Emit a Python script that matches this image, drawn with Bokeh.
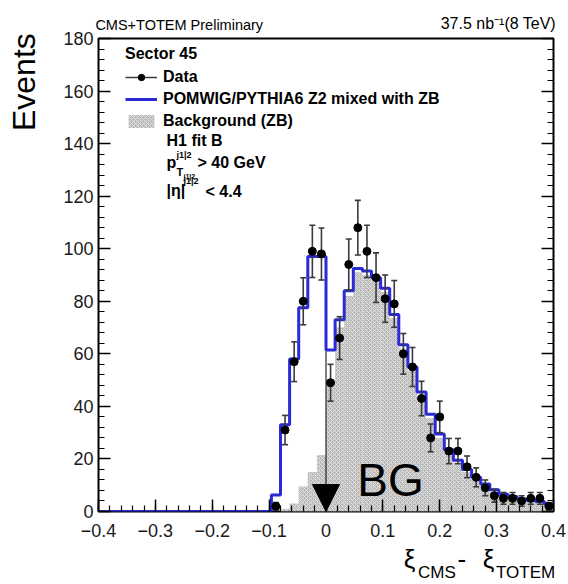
import numpy as np
from bokeh.plotting import figure
from bokeh.models import (Range1d, LinearAxis, FixedTicker, Label, Legend, LegendItem,
                          Arrow, NormalHead, ColumnDataSource)
from bokeh.embed import file_html
from bokeh.resources import INLINE

# ---------------- data ----------------
x_min, x_max, n_bins = -0.4, 0.4, 50
bin_edges = [round(x_min + (x_max - x_min) * i / n_bins, 4) for i in range(n_bins + 1)]

# POMWIG/PYTHIA6 Z2 mixed with ZB (blue histogram), one value per bin
mc_values = [0, 0, 0, 0, 0, 0, 0, 0, 0, 0, 0, 0, 0, 0, 0, 0, 0, 0, 0,
             6.3, 33, 58, 77.5, 97, 97,
             61.5, 73, 84, 92.5, 91.5, 89, 85, 75, 63.5, 55, 45.5, 37, 29.5,
             23.5, 19.5, 16, 13, 10.5, 8.3, 6.6, 5.7, 4.8, 4.3, 3.8, 2.8]

# Background (ZB), hatched grey histogram
bkg_values = [0, 0, 0, 0, 0, 0, 0, 0, 0, 0, 0, 0, 0, 0, 0, 0, 0, 0, 0,
              0, 1, 3, 9.5, 15, 21.5,
              50, 70, 82, 91, 90, 87.5, 83.5, 73.5, 62, 53.5, 44, 35.5, 28,
              22.3, 18.4, 15, 12, 9.6, 7.5, 6, 5.1, 4.3, 3.8, 3.3, 2.3]

# Data (bin centres from -0.088 to 0.392)
data_first_bin = 19
data_counts = [2, 31, 57, 80, 99, 98,
               49, 66, 94, 108, 99, 89, 81, 79, 60, 55, 43, 28, 36, 23, 23,
               17, 13, 9, 6, 5, 5, 4, 5, 5, 2]

x_ticks = [-0.4, -0.3, -0.2, -0.1, 0.0, 0.1, 0.2, 0.3, 0.4]
x_tick_labels = ["\u22120.4", "\u22120.3", "\u22120.2", "\u22120.1", "0", "0.1", "0.2", "0.3", "0.4"]
y_ticks = [0, 20, 40, 60, 80, 100, 120, 140, 160, 180]

# ---------------- derived ----------------
left = bin_edges[:-1]
right = bin_edges[1:]
centers = [(a + b) / 2 for a, b in zip(left, right)]

bkg_src = ColumnDataSource(dict(left=[l for l, v in zip(left, bkg_values) if v > 0],
                                right=[r for r, v in zip(right, bkg_values) if v > 0],
                                top=[v for v in bkg_values if v > 0]))
mc_step = ColumnDataSource(dict(x=bin_edges, y=mc_values + [mc_values[-1]]))
dx = centers[data_first_bin:data_first_bin + len(data_counts)]
dn = np.array(data_counts, dtype=float)
err = np.sqrt(dn)
data_src = ColumnDataSource(dict(x=dx, n=dn, lo=dn - err, hi=dn + err))

x_minor = [round(-0.4 + 0.02 * i, 3) for i in range(41)]
y_minor = list(range(0, 181, 4))

FONT = "Liberation Sans"

p = figure(width=568, height=584, x_range=Range1d(x_min, x_max), y_range=Range1d(0, 180),
           output_backend="svg", toolbar_location=None,
           min_border_left=98, min_border_right=15, min_border_top=38, min_border_bottom=73)
p.background_fill_color = "white"
p.border_fill_color = "white"
p.outline_line_color = "black"
p.outline_line_width = 2
p.grid.visible = False

xa = p.xaxis[0]
xa.ticker = FixedTicker(ticks=x_ticks, minor_ticks=x_minor)
xa.major_label_overrides = dict(zip(x_ticks, x_tick_labels))
ya = p.yaxis[0]
ya.ticker = FixedTicker(ticks=y_ticks, minor_ticks=y_minor)
for ax in (xa, ya):
    ax.axis_line_color = None
    ax.major_tick_in = 12
    ax.major_tick_out = 0
    ax.minor_tick_in = 6
    ax.minor_tick_out = 0
    ax.major_tick_line_color = "black"
    ax.minor_tick_line_color = "black"
    ax.major_tick_line_width = 1.5
    ax.minor_tick_line_width = 1.2
    ax.major_label_text_font = FONT
    ax.major_label_text_font_size = "18px"
    ax.major_label_text_color = "#1a1a1a"
xa.major_label_standoff = 12
ya.major_label_standoff = 5

yr = LinearAxis(ticker=FixedTicker(ticks=y_ticks, minor_ticks=y_minor),
                major_label_overrides={t: "" for t in y_ticks},
                major_label_standoff=0,
                axis_line_color=None, major_tick_in=12, major_tick_out=0,
                minor_tick_in=6, minor_tick_out=0, major_tick_line_width=1.5,
                minor_tick_line_width=1.2)
p.add_layout(yr, "right")


def text_axis(positions, labels, size, standoff, font=FONT, orientation="horizontal"):
    """An axis with no ticks whose tick labels carry title texts."""
    return LinearAxis(ticker=FixedTicker(ticks=positions, minor_ticks=[]),
                      major_label_overrides=dict(zip(positions, labels)),
                      major_label_text_font=font, major_label_text_font_size=f"{size}px",
                      major_label_text_color="black", major_label_standoff=standoff,
                      major_label_orientation=orientation,
                      axis_line_color=None, major_tick_line_color=None,
                      minor_tick_line_color=None, major_tick_in=0, major_tick_out=0)


# header texts (above the frame)
top_a_pos = [-0.258]
top_a_txt = ["CMS+TOTEM Preliminary"]
top_b_pos = [0.303]
top_b_txt = ["37.5 nb\u207b\u00b9(8 TeV)"]
p.add_layout(text_axis(top_a_pos, top_a_txt, 14.5, 6), "above")
p.add_layout(text_axis(top_b_pos, top_b_txt, 16, -18), "above")

# x title: xi_CMS - xi_TOTEM
xt_main_pos = [0.147, 0.239, 0.286]
xt_main_txt = ["\u03be", "-", "\u03be"]
xt_sub_pos = [0.195, 0.351]
xt_sub_txt = ["CMS", "TOTEM"]
p.add_layout(text_axis(xt_main_pos, xt_main_txt, 26, 4), "below")
p.add_layout(text_axis(xt_sub_pos, xt_sub_txt, 17, -14), "below")

# y title
p.add_layout(text_axis([163.4], ["Events"], 32, 18, orientation="parallel"), "left")

# background hatched histogram
bg_r = p.quad(left="left", right="right", top="top", bottom=0, source=bkg_src,
              fill_color="#b9b9b9", line_color=None,
              hatch_pattern="x", hatch_color="#e4e4e4", hatch_scale=4, hatch_weight=0.9)

# MC blue histogram
mc_r = p.step(x="x", y="y", source=mc_step, mode="after", line_color="#2a2ad6", line_width=3)

# arrow at 0
p.add_layout(Arrow(end=NormalHead(size=27, fill_color="black", line_color="black"),
                   x_start=0, y_start=61, x_end=0, y_end=0, line_color="black", line_width=1))

# data points
err_r = p.segment(x0="x", y0="lo", x1="x", y1="hi", source=data_src, line_color="#3a3a3a", line_width=1.6)
p.scatter(x="x", y="lo", source=data_src, marker="dash", size=6, line_color="#3a3a3a", line_width=1.6)
p.scatter(x="x", y="hi", source=data_src, marker="dash", size=6, line_color="#3a3a3a", line_width=1.6)
pts_r = p.scatter(x="x", y="n", source=data_src, marker="circle", size=8, fill_color="black", line_color="black")

legend = Legend(items=[LegendItem(label="Data", renderers=[err_r, pts_r]),
                       LegendItem(label="POMWIG/PYTHIA6 Z2 mixed with ZB", renderers=[mc_r]),
                       LegendItem(label="Background (ZB)", renderers=[bg_r])],
                title="Sector 45", location=(27, 380),
                border_line_color=None, background_fill_alpha=0,
                label_text_font=FONT, label_text_font_style="bold", label_text_font_size="16px",
                label_text_color="black",
                title_text_font=FONT, title_text_font_style="bold", title_text_font_size="16px",
                title_text_color="black",
                glyph_width=32, glyph_height=16, label_height=20, spacing=2, padding=2,
                margin=0, label_standoff=6, title_standoff=4)
p.add_layout(legend)


def txt(t, px, py, size, bold=True):
    p.add_layout(Label(x=px - 98, y=511 - py, x_units="screen", y_units="screen", text=t,
                       text_font=FONT, text_font_size=f"{size}px",
                       text_font_style="bold" if bold else "normal",
                       text_align="left", text_baseline="alphabetic", text_color="black"))


# legend extra lines
txt("H1 fit B", 166, 140, 16)
txt("p", 166, 162, 16)
txt("j1|2", 176, 154, 9)
txt("T", 176, 171, 11)
txt("j1|2", 183, 176, 7)
txt("> 40 GeV", 197, 162, 16)
txt("|\u03b7|", 166, 190, 16)
txt("j1|2", 183, 180, 9)
txt("< 4.4", 205, 191, 16)

# BG annotation
p.add_layout(Label(x=0.055, y=11.8, text="BG", text_font=FONT, text_font_size="46px",
                   text_baseline="alphabetic", text_color="black"))

open("out.html", "w").write(file_html(p, INLINE))
